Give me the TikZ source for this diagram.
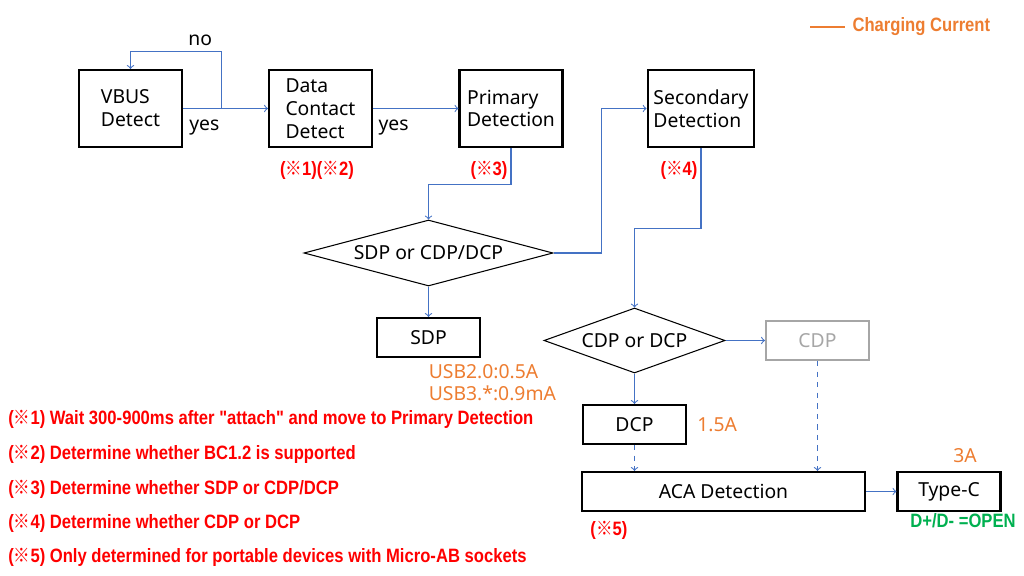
\documentclass[tikz,border=0pt]{standalone}
\usepackage{fontspec}
\setmainfont{Noto Sans}
\newfontfamily\cjkfont{Noto Sans CJK JP}
\newfontfamily\notefont{Liberation Sans}
\usepackage{graphicx}
\usepackage{tikz}
\usetikzlibrary{calc}
\usetikzlibrary{shapes,arrows}
\definecolor{flowblue}{HTML}{4472C4}
\definecolor{ampcol}{HTML}{ED7D31}
\definecolor{notered}{HTML}{FF0000}
\definecolor{opengreen}{HTML}{00B050}
\definecolor{greybox}{HTML}{A6A6A6}
\newcommand{\kome}{{\cjkfont\mdseries ※}}
\newcommand{\narrow}[1]{\scalebox{0.86}[1]{#1}}
\tikzset{
  stage/.style={draw, line width=1.2pt, minimum width=2.06cm, minimum height=0.78cm, align=left, font=\fontsize{11}{13}\selectfont},
  decide/.style={diamond, draw, line width=0.6pt, inner sep=0pt, font=\fontsize{11}{13}\selectfont},
  flow/.style={draw=flowblue, line width=0.6pt, ->},
  amp/.style={text=ampcol, font=\fontsize{11}{12.5}\selectfont, inner sep=0pt},
  remark/.style={text=notered, font=\notefont\bfseries\fontsize{11}{12}\selectfont, inner sep=0pt}
}
\begin{document}
\begin{tikzpicture}
  \useasboundingbox (0,0) rectangle (20.48,-11.52);
  \node[stage, minimum height=1.54cm] at (2.61,-2.17) (vbus){VBUS\\Detect};
  \node[stage, minimum height=1.54cm, right of =vbus, node distance=3.8cm] (dcd){Data\\Contact\\Detect};
  \node[stage, minimum height=1.54cm, right of =dcd, node distance=3.81cm] (prim){Primary\\Detection};
  \node[stage, minimum height=1.54cm, right of =prim, node distance=3.8cm] (sec){Secondary\\Detection};

  \node[decide, aspect=3.77, minimum width=4.98cm, minimum height=1.32cm] at (8.57,-5.06) (bcdec){SDP or CDP/DCP};
  \node[stage, below of =bcdec, node distance=1.69cm] (sdp){SDP};
  \node[decide, aspect=2.78, minimum width=3.62cm, minimum height=1.3cm] at (12.69,-6.81) (chgdec){CDP or DCP};
  \node[stage, draw=greybox, text=greybox, right of =chgdec, node distance=3.66cm] (cdp){CDP};
  \node[stage, below of =chgdec, node distance=1.68cm] (dcp){DCP};
  \node[stage, minimum width=5.66cm] at (14.47,-9.83) (aca){ACA Detection};
  \node[stage, right of =aca, node distance=4.51cm] (typec){Type-C};

  \path[flow] (vbus.east)--node[below=3pt, pos=0.25, font=\fontsize{11}{13}\selectfont]{yes} (dcd.west);
  \coordinate (loop) at ($(vbus.east)!0.45!(dcd.west)$);
  \path[flow] (loop)-- ++(0,1.14) coordinate (looptop) -| (vbus.north);
  \node[above, xshift=-0.42cm, font=\fontsize{11}{13}\selectfont] at (looptop) (nolbl){no};
  \path[flow] (dcd.east)--node[below=3pt, pos=0.24, font=\fontsize{11}{13}\selectfont]{yes} (prim.west);
  \path[flow] (prim.south)-- ++(0,-0.72) -| (bcdec.north);
  \path[flow] (bcdec.east)-- ++(0.96,0) |- (sec.west);
  \path[flow] (sec.south)-- ++(0,-1.6) -| (chgdec.north);
  \path[flow] (bcdec.south)--(sdp.north);
  \path[flow] (chgdec.east)--(cdp.west);
  \path[flow] (chgdec.south)--(dcp.north);
  \path[flow, dashed] (dcp.south)--(dcp.south|-aca.north);
  \path[flow, dashed] (cdp.south)--(cdp.south|-aca.north);
  \path[flow] (aca.east)--(typec.west);

  \node[remark] at ($(dcd.south)+(-0.07,-0.44)$) (m12){\narrow{(\kome1)(\kome2)}};
  \node[remark] at ($(prim.south)+(-0.44,-0.44)$) (m3){\narrow{(\kome3)}};
  \node[remark] at ($(sec.south)+(-0.44,-0.44)$) (m4){\narrow{(\kome4)}};
  \node[remark] at ($(aca.south west)+(0.56,-0.36)$) (m5){\narrow{(\kome5)}};

  \node[amp, anchor=north west, align=left] at ($(sdp.south)+(0,-0.12)$) (sdpamp){USB2.0:0.5A\\USB3.*:0.9mA};
  \node[amp, right of =dcp, node distance=1.25cm, anchor=west] (dcpamp){1.5A};
  \node[amp] at ($(typec.north)+(0.32,0.3)$) (typecamp){3A};
  \node[remark, text=opengreen] at ($(typec.south)+(0.28,-0.18)$) (open){\narrow{D+/D- =OPEN}};

  \coordinate (lgd) at (16.2,-0.54);
  \path[draw=ampcol, line width=0.6pt] (lgd)-- ++(0.7,0) node[remark, text=ampcol, right, inner sep=4pt] (lgdtxt){\narrow{Charging Current}};

  \node[remark, anchor=west] at (0.16,-8.38) (n1){\narrow{(\kome1) Wait 300-900ms after "attach" and move to Primary Detection}};
  \node[remark, anchor=west] at (0.16,-9.08) (n2){\narrow{(\kome2) Determine whether BC1.2 is supported}};
  \node[remark, anchor=west] at (0.16,-9.78) (n3){\narrow{(\kome3) Determine whether SDP or CDP/DCP}};
  \node[remark, anchor=west] at (0.16,-10.46) (n4){\narrow{(\kome4) Determine whether CDP or DCP}};
  \node[remark, anchor=west] at (0.16,-11.14) (n5){\narrow{(\kome5) Only determined for portable devices with Micro-AB sockets}};
\end{tikzpicture}
\end{document}
